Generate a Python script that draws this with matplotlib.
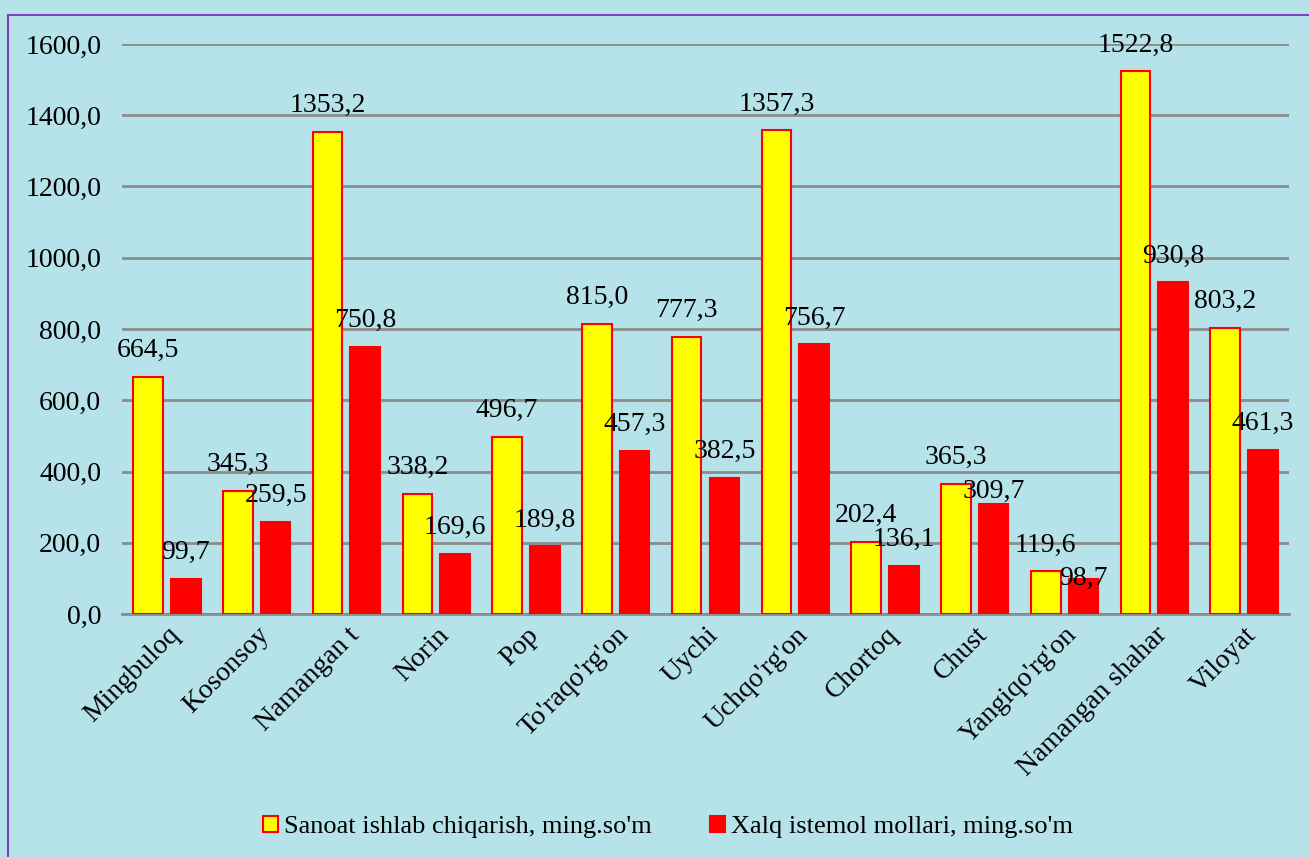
import matplotlib.pyplot as plt
from matplotlib.patches import Rectangle
from matplotlib.ticker import FuncFormatter
import numpy as np

districts = ["Mingbuloq", "Kosonsoy", "Namangan t", "Norin", "Pop", "To'raqo'rg'on",
             "Uychi", "Uchqo'rg'on", "Chortoq", "Chust", "Yangiqo'rg'on",
             "Namangan shahar", "Viloyat"]
sanoat = [664.5, 345.3, 1353.2, 338.2, 496.7, 815.0, 777.3, 1357.3, 202.4, 365.3, 119.6, 1522.8, 803.2]
xalq = [99.7, 259.5, 750.8, 169.6, 189.8, 457.3, 382.5, 756.7, 136.1, 309.7, 98.7, 930.8, 461.3]
series_names = ["Sanoat ishlab chiqarish, ming.so'm", "Xalq istemol mollari, ming.so'm"]

plt.rcParams['font.family'] = ['Liberation Serif', 'DejaVu Serif']
FS = 20

bg = '#b6e2ea'
fig = plt.figure(figsize=(13.09, 8.57), dpi=100, facecolor=bg)
ax = fig.add_axes([0.0932, 0.2835, 0.8915, 0.6652])
ax.set_facecolor('none')

# purple frame around the chart area
fig.patches.append(Rectangle((8 / 1309, -0.1), 1.2, 1 - 15 / 857 + 0.1, transform=fig.transFigure,
                             fill=False, edgecolor='#8040c0', linewidth=1.5))

x = np.arange(len(districts))
w = 0.33
off = 0.21
b1 = ax.bar(x - off, sanoat, w, color='#ffff00', edgecolor='#ff0000', linewidth=1.5,
            label=series_names[0], zorder=3)
b2 = ax.bar(x + off, xalq, w, color='#ff0000', edgecolor='#ff0000', linewidth=1.5,
            label=series_names[1], zorder=3)

def fmt(v):
    return f"{v:.1f}".replace('.', ',')

# some labels were nudged down in the original to avoid collisions
nudge = {"Chust": 10, "Yangiqo'rg'on": 19}

for xi, v in zip(x - off, sanoat):
    ax.annotate(fmt(v), (xi, v), xytext=(0, 19), textcoords='offset points',
                ha='center', va='center', fontsize=FS, clip_on=False, zorder=4)
for xi, v, d in zip(x + off, xalq, districts):
    ax.annotate(fmt(v), (xi, v), xytext=(0, 19 - nudge.get(d, 0)), textcoords='offset points',
                ha='center', va='center', fontsize=FS, clip_on=False, zorder=4)

ax.set_ylim(0, 1600)
ax.set_xlim(-0.5, len(districts) - 0.5)
ax.set_yticks(np.arange(0, 1601, 200))
ax.yaxis.set_major_formatter(FuncFormatter(lambda v, p: fmt(v)))
ax.yaxis.grid(True, color='#8c8c8c', linewidth=2, zorder=1)
ax.set_axisbelow(True)
for s in ['top', 'right', 'left']:
    ax.spines[s].set_visible(False)
ax.spines['bottom'].set_color('#8c8c8c')
ax.spines['bottom'].set_linewidth(2)
ax.tick_params(axis='y', length=0, labelsize=FS, pad=15)
ax.tick_params(axis='x', length=0, labelsize=FS, pad=6)
ax.set_xticks(x)
ax.set_xticklabels(districts, rotation=45, ha='right', va='top', rotation_mode='anchor')

fig.legend(handles=[b1, b2], loc='center', bbox_to_anchor=(0.5103, 1 - 827 / 857), ncol=2,
           frameon=False, fontsize=19, handlelength=0.57, handleheight=0.57,
           handletextpad=0.23, columnspacing=2.2)

fig.savefig('out.png', dpi=100, facecolor=bg)
